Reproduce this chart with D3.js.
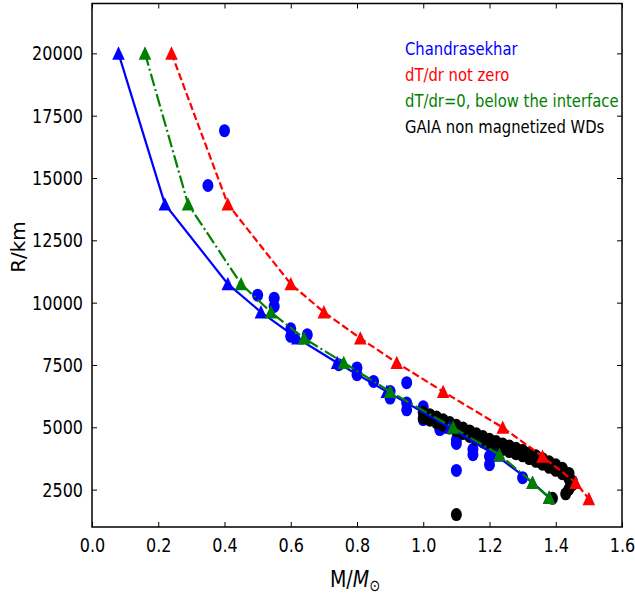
<!DOCTYPE html>
<html>
<head>
<meta charset="utf-8">
<script src="https://cdn.jsdelivr.net/npm/d3@7"></script>
<style>
  body { margin: 0; background: #fff; }
  text { font-family: "DejaVu Sans", sans-serif; }
</style>
</head>
<body>
<div id="chart"></div>
<script>
// model curves: mass (M/Msun) and radius (km)
var chandraMass = [0.08, 0.22, 0.41, 0.51, 0.62, 0.74, 0.89, 1.08, 1.22, 1.33, 1.38];
var chandraRadius = [20000, 13950, 10750, 9620, 8570, 7590, 6430, 4990, 3870, 2780, 2180];
var gradMass = [0.24, 0.41, 0.60, 0.70, 0.81, 0.92, 1.06, 1.24, 1.36, 1.46, 1.50];
var gradRadius = [20000, 13950, 10750, 9620, 8570, 7590, 6430, 4990, 3830, 2780, 2130];
var flatMass = [0.16, 0.29, 0.45, 0.54, 0.64, 0.76, 0.90, 1.09, 1.23, 1.33, 1.38];
var flatRadius = [20000, 13950, 10750, 9620, 8570, 7590, 6430, 4990, 3900, 2780, 2180];

// observed white dwarfs (blue dots)
var obsMass = [0.40, 0.35, 0.50, 0.55, 0.55, 0.60, 0.60, 0.65, 0.745, 0.80, 0.80, 0.85, 0.90, 0.90,
  0.95, 0.95, 0.95, 1.00, 1.00, 1.05, 1.10, 1.10, 1.10, 1.15, 1.15, 1.20, 1.20, 1.30];
var obsRadius = [16900, 14700, 10300, 10180, 9850, 8950, 8650, 8710, 7510, 7380, 7110, 6840, 6440, 6170,
  6790, 5970, 5700, 5820, 5310, 4910, 4500, 4350, 3270, 4120, 3900, 3830, 3500, 2980];

// GAIA non magnetized WDs (black): upper row, middle row, lower row, then the tail
var gaiaMass = [1.00, 1.02, 1.04, 1.06, 1.08, 1.10, 1.12, 1.14, 1.16, 1.18, 1.20, 1.22, 1.24, 1.26, 1.28,
  1.30, 1.32, 1.34, 1.36, 1.38, 1.40, 1.42, 1.44,
  1.01, 1.03, 1.05, 1.07, 1.09, 1.11, 1.13, 1.15, 1.17, 1.19, 1.21, 1.23, 1.25, 1.27, 1.29,
  1.31, 1.33, 1.35, 1.37, 1.39, 1.41, 1.43,
  1.00, 1.02, 1.04, 1.06, 1.08, 1.10, 1.12, 1.14, 1.16, 1.18, 1.20, 1.22, 1.24, 1.26, 1.28,
  1.30, 1.32, 1.34, 1.36, 1.38, 1.40, 1.42, 1.44,
  1.45, 1.45, 1.44, 1.43, 1.39, 1.10];
var gaiaRadius = [5600, 5505, 5410, 5300, 5190, 5080, 4970, 4855, 4745, 4630, 4520, 4425, 4330, 4245, 4160,
  4075, 3965, 3855, 3740, 3615, 3495, 3355, 3150,
  5440, 5350, 5245, 5135, 5025, 4915, 4800, 4690, 4580, 4465, 4360, 4265, 4180, 4095, 4005,
  3910, 3800, 3690, 3570, 3445, 3320, 3150,
  5380, 5285, 5190, 5080, 4970, 4860, 4750, 4635, 4525, 4410, 4300, 4205, 4110, 4025, 3940,
  3855, 3745, 3635, 3520, 3395, 3275, 3135, 2930,
  2840, 2700, 2520, 2330, 2150, 1500];

var legendLabels = ["Chandrasekhar", "dT/dr not zero", "dT/dr=0, below the interface", "GAIA non magnetized WDs"];
var legendColors = ["#0000ff", "#ff0000", "#008000", "#000000"];

var xTicks = [0.0, 0.2, 0.4, 0.6, 0.8, 1.0, 1.2, 1.4, 1.6];
var yTicks = [2500, 5000, 7500, 10000, 12500, 15000, 17500, 20000];

var W = 635, H = 598;
var padL = 92, padR = 622, padT = 3.5, padB = 527;
var stretch = 1.25; // the original figure is a bit taller than wide

var svg = d3.select("#chart").append("svg").attr("width", W).attr("height", H);

var x = d3.scaleLinear().domain([0, 1.6]).range([padL, padR]);
var y = d3.scaleLinear().domain([1000, 22000]).range([padB, padT]);

// axes, ticks pointing inward on all four sides
var gx = svg.append("g").attr("transform", "translate(0," + padB + ")")
  .call(d3.axisBottom(x).tickValues(xTicks).tickFormat(d3.format(".1f")).tickSizeInner(-5).tickSizeOuter(0));
var gy = svg.append("g").attr("transform", "translate(" + padL + ",0)")
  .call(d3.axisLeft(y).tickValues(yTicks).tickFormat(d3.format("d")).tickSizeInner(-5).tickSizeOuter(0));
var gt = svg.append("g").attr("transform", "translate(0," + padT + ")")
  .call(d3.axisTop(x).tickValues(xTicks).tickFormat("").tickSizeInner(-5).tickSizeOuter(0));
var gr = svg.append("g").attr("transform", "translate(" + padR + ",0)")
  .call(d3.axisRight(y).tickValues(yTicks).tickFormat("").tickSizeInner(-5).tickSizeOuter(0));

[gx, gy, gt, gr].forEach(function (g) {
  g.select(".domain").remove();
  g.selectAll(".tick line").attr("stroke", "#000").attr("stroke-width", 1);
  g.selectAll(".tick text").attr("font-size", 16).attr("fill", "#000");
});

// stretch the tick labels vertically like the reference
gx.selectAll(".tick text").attr("y", 0).attr("transform", "translate(0,11) scale(1," + stretch + ")");
gy.selectAll(".tick text").attr("x", 0).attr("transform", "translate(-9,0) scale(1," + stretch + ")");

// plot frame
svg.append("rect").attr("x", padL).attr("y", padT).attr("width", padR - padL).attr("height", padB - padT)
  .attr("fill", "none").attr("stroke", "#000").attr("stroke-width", 1.5);

var plot = svg.append("g");

// blue observed dots
plot.selectAll(".obs").data(d3.range(obsMass.length)).enter().append("ellipse")
  .attr("cx", function (i) { return x(obsMass[i]); })
  .attr("cy", function (i) { return y(obsRadius[i]); })
  .attr("rx", 5.5).attr("ry", 6.5).attr("fill", "#0000ff");

// GAIA points
plot.selectAll(".gaia").data(d3.range(gaiaMass.length)).enter().append("ellipse")
  .attr("cx", function (i) { return x(gaiaMass[i]); })
  .attr("cy", function (i) { return y(gaiaRadius[i]); })
  .attr("rx", 5.5).attr("ry", 6.5).attr("fill", "#000");

var tri = "M0,-7L6.3,6.3L-6.3,6.3Z";

function drawCurve(mass, radius, color, dash) {
  var pts = mass.map(function (m, i) { return [x(m), y(radius[i])]; });
  plot.append("path").attr("d", d3.line()(pts)).attr("fill", "none")
    .attr("stroke", color).attr("stroke-width", 2.2).attr("stroke-dasharray", dash);
  plot.selectAll(null).data(pts).enter().append("path")
    .attr("d", tri).attr("fill", color)
    .attr("transform", function (p) { return "translate(" + p[0] + "," + p[1] + ")"; });
}

drawCurve(chandraMass, chandraRadius, "#0000ff", null);
drawCurve(gradMass, gradRadius, "#ff0000", "7.4,3.2");
drawCurve(flatMass, flatRadius, "#008000", "12.8,3.2,2,3.2");

// legend: coloured text only
svg.selectAll(".leg").data(legendLabels).enter().append("text")
  .attr("transform", function (d, i) { return "translate(405," + (55 + i * 26) + ") scale(1," + stretch + ")"; })
  .attr("font-size", 14.8).attr("fill", function (d, i) { return legendColors[i]; })
  .text(function (d) { return d; });

// axis labels
svg.append("text").attr("transform", "translate(25,247) rotate(-90)")
  .attr("text-anchor", "middle").attr("font-size", 20).text("R/km");

var xl = svg.append("text").attr("transform", "translate(355,587) scale(1," + stretch + ")")
  .attr("text-anchor", "middle").attr("font-size", 19);
xl.append("tspan").text("M/");
xl.append("tspan").attr("font-style", "italic").text("M");
xl.append("tspan").attr("font-size", 13).attr("dy", 3).text("\u2299");
</script>
</body>
</html>
